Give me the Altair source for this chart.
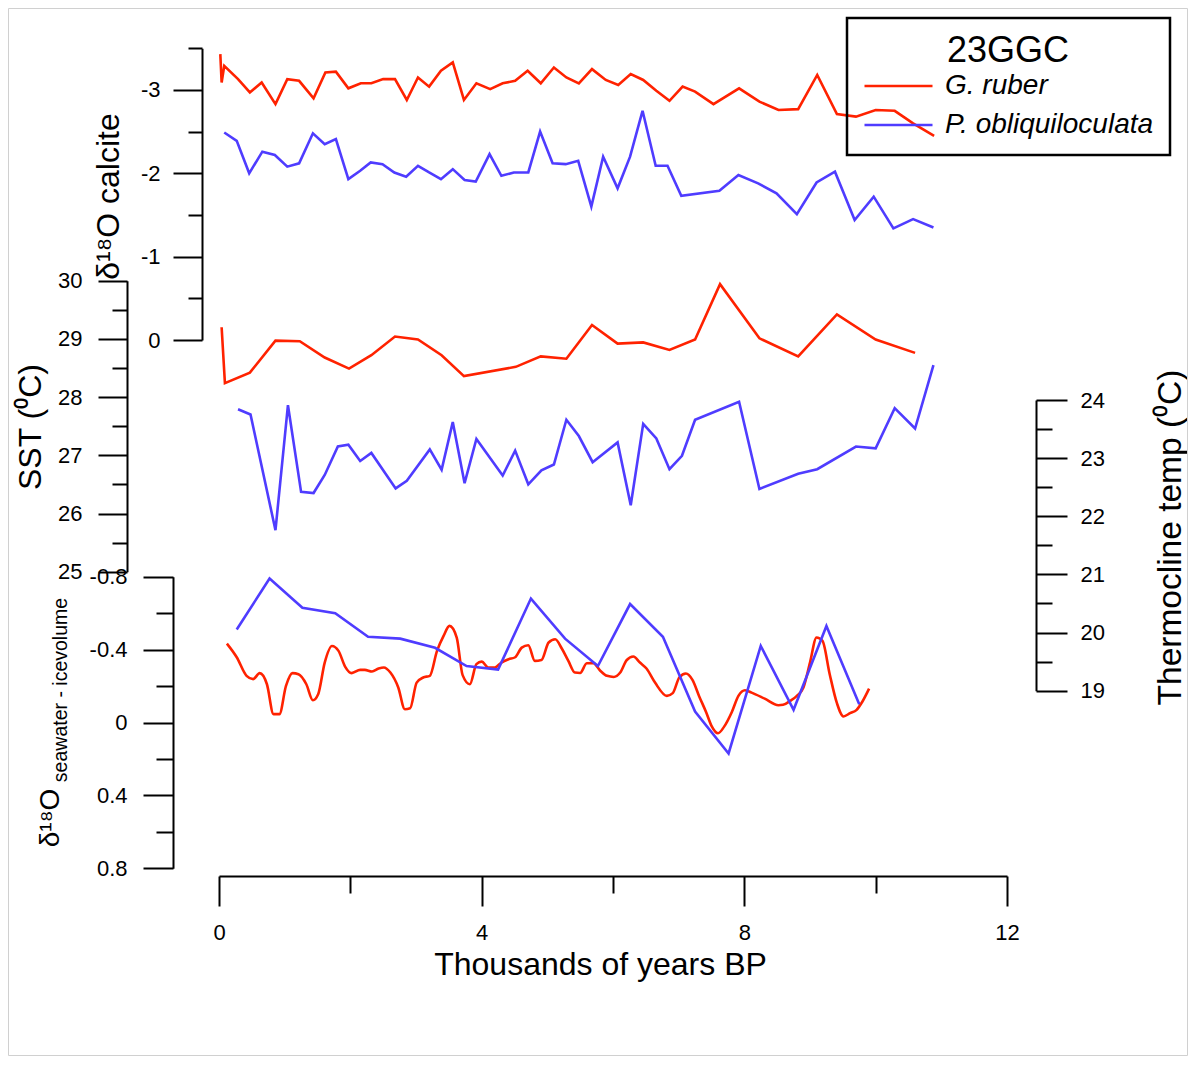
import altair as alt
import pandas as pd

FONT = "Liberation Sans"
RED = "#ff2200"
BLUE = "#4f3cff"
SPECIES = ["G. ruber", "P. obliquiloculata"]
LW = 2.6

# ---- top panel: d18O calcite ----
CALC_RUBER_AGE = [0.02, 0.04, 0.08, 0.29, 0.47, 0.65, 0.86, 1.04, 1.22, 1.44, 1.62, 1.78, 1.97, 2.16, 2.32,
                  2.50, 2.68, 2.86, 3.03, 3.20, 3.38, 3.56, 3.73, 3.92, 4.13, 4.32, 4.51, 4.70, 4.90, 5.10,
                  5.29, 5.48, 5.68, 5.89, 6.08, 6.27, 6.46, 6.66, 6.86, 7.06, 7.25, 7.53, 7.92, 8.23, 8.52,
                  8.82, 9.11, 9.41, 9.70, 10.00, 10.29, 10.57, 10.89]
CALC_RUBER_VAL = [-3.43, -3.09, -3.29, -3.13, -2.97, -3.09, -2.83, -3.13, -3.11, -2.90, -3.21, -3.22, -3.02,
                  -3.08, -3.08, -3.13, -3.13, -2.88, -3.15, -3.04, -3.23, -3.33, -2.88, -3.08, -3.01, -3.08,
                  -3.11, -3.23, -3.08, -3.27, -3.15, -3.08, -3.25, -3.12, -3.06, -3.19, -3.12, -2.99, -2.87,
                  -3.04, -2.98, -2.83, -3.02, -2.86, -2.76, -2.77, -3.18, -2.71, -2.68, -2.76, -2.75, -2.60,
                  -2.45]
CALC_OBLIQ_AGE = [0.08, 0.27, 0.46, 0.66, 0.85, 1.04, 1.22, 1.43, 1.61, 1.78, 1.97, 2.15, 2.31, 2.49, 2.67,
                  2.85, 3.03, 3.20, 3.38, 3.56, 3.74, 3.91, 4.12, 4.30, 4.49, 4.71, 4.89, 5.08, 5.28, 5.47,
                  5.67, 5.85, 6.07, 6.26, 6.45, 6.65, 6.83, 7.04, 7.62, 7.91, 8.21, 8.49, 8.80, 9.10, 9.38,
                  9.68, 9.97, 10.27, 10.57, 10.88]
CALC_OBLIQ_VAL = [-2.49, -2.39, -2.00, -2.26, -2.22, -2.08, -2.12, -2.48, -2.35, -2.41, -1.93, -2.03, -2.13,
                  -2.11, -2.01, -1.96, -2.09, -2.01, -1.93, -2.05, -1.92, -1.90, -2.23, -1.97, -2.01, -2.01,
                  -2.50, -2.12, -2.11, -2.15, -1.60, -2.20, -1.82, -2.20, -2.75, -2.09, -2.09, -1.73, -1.79,
                  -1.98, -1.88, -1.76, -1.51, -1.89, -2.02, -1.44, -1.72, -1.34, -1.45, -1.35]

# ---- middle panel: SST (G. ruber) and thermocline temperature (P. obliquiloculata) ----
SST_AGE = [0.04, 0.09, 0.47, 0.86, 1.23, 1.61, 1.98, 2.32, 2.68, 3.03, 3.39, 3.73, 4.52, 4.90, 5.29, 5.68,
           6.07, 6.46, 6.86, 7.25, 7.63, 8.23, 8.82, 9.41, 10.00, 10.60]
SST_VAL = [29.20, 28.24, 28.42, 28.97, 28.96, 28.68, 28.49, 28.72, 29.04, 28.99, 28.72, 28.36, 28.52, 28.70,
           28.66, 29.24, 28.92, 28.94, 28.81, 28.99, 29.94, 29.01, 28.70, 29.42, 28.99, 28.76]
THERMO_AGE = [0.29, 0.48, 0.86, 1.05, 1.25, 1.44, 1.61, 1.81, 1.97, 2.15, 2.32, 2.69, 2.86, 3.21, 3.39, 3.56,
              3.74, 3.92, 4.32, 4.51, 4.71, 4.91, 5.10, 5.29, 5.48, 5.69, 6.07, 6.27, 6.46, 6.66, 6.86, 7.05,
              7.25, 7.92, 8.23, 8.82, 9.11, 9.70, 10.00, 10.29, 10.60, 10.88]
THERMO_VAL = [23.84, 23.75, 21.76, 23.91, 22.42, 22.40, 22.71, 23.20, 23.23, 22.95, 23.09, 22.48, 22.61, 23.15,
              22.80, 23.62, 22.57, 23.33, 22.70, 23.13, 22.55, 22.79, 22.89, 23.66, 23.38, 22.93, 23.27, 22.19,
              23.59, 23.34, 22.81, 23.04, 23.66, 23.97, 22.47, 22.73, 22.81, 23.20, 23.17, 23.86, 23.51, 24.60]

# ---- bottom panel: d18O seawater - ice volume ----
SW_RUBER_AGE = [0.12, 0.27, 0.42, 0.52, 0.62, 0.73, 0.83, 0.92, 1.02, 1.12, 1.21, 1.33, 1.43, 1.51, 1.61,
                1.72, 1.82, 1.92, 2.02, 2.15, 2.22, 2.33, 2.43, 2.51, 2.61, 2.73, 2.83, 2.91, 3.01, 3.11,
                3.21, 3.32, 3.42, 3.51, 3.62, 3.71, 3.82, 3.92, 4.00, 4.10, 4.20, 4.30, 4.41, 4.51, 4.61,
                4.71, 4.81, 4.91, 5.02, 5.12, 5.22, 5.32, 5.42, 5.50, 5.60, 5.70, 5.81, 5.91, 6.01, 6.11,
                6.21, 6.31, 6.41, 6.51, 6.64, 6.82, 6.91, 7.01, 7.11, 7.21, 7.31, 7.42, 7.50, 7.60, 7.69,
                7.81, 7.91, 8.01, 8.11, 8.31, 8.52, 8.59, 8.70, 8.80, 8.90, 9.00, 9.10, 9.19, 9.30, 9.41,
                9.51, 9.61, 9.71, 9.79, 9.90]
SW_RUBER_VAL = [-0.433, -0.358, -0.256, -0.238, -0.271, -0.210, -0.046, -0.046, -0.201, -0.271, -0.265,
                -0.210, -0.122, -0.155, -0.329, -0.420, -0.393, -0.307, -0.271, -0.289, -0.289, -0.280,
                -0.296, -0.302, -0.274, -0.192, -0.073, -0.078, -0.219, -0.247, -0.256, -0.393, -0.475,
                -0.530, -0.466, -0.260, -0.210, -0.320, -0.334, -0.302, -0.302, -0.329, -0.347, -0.358,
                -0.411, -0.424, -0.338, -0.343, -0.439, -0.457, -0.406, -0.338, -0.274, -0.272, -0.325,
                -0.326, -0.283, -0.256, -0.250, -0.274, -0.343, -0.362, -0.329, -0.296, -0.219, -0.146,
                -0.161, -0.247, -0.269, -0.234, -0.146, -0.055, 0.018, 0.059, 0.024, -0.058, -0.146,
                -0.177, -0.164, -0.131, -0.095, -0.097, -0.119, -0.146, -0.192, -0.329, -0.466, -0.448,
                -0.265, -0.106, -0.033, -0.051, -0.069, -0.110, -0.186]
SW_OBLIQ_AGE = [0.27, 0.77, 1.27, 1.77, 2.27, 2.76, 3.29, 3.77, 4.25, 4.75, 5.27, 5.77, 6.26, 6.76, 7.25,
                7.76, 8.25, 8.75, 9.25, 9.75]
SW_OBLIQ_VAL = [-0.51, -0.79, -0.63, -0.60, -0.47, -0.46, -0.41, -0.31, -0.29, -0.68, -0.46, -0.31, -0.65,
                -0.47, -0.06, 0.17, -0.42, -0.07, -0.53, -0.10]


def table(age, val, sp):
    return pd.DataFrame({"age": age, "value": val, "species": sp})


calc_df = pd.concat([table(CALC_RUBER_AGE, CALC_RUBER_VAL, SPECIES[0]),
                     table(CALC_OBLIQ_AGE, CALC_OBLIQ_VAL, SPECIES[1])], ignore_index=True)
sst_df = table(SST_AGE, SST_VAL, SPECIES[0])
thermo_df = table(THERMO_AGE, THERMO_VAL, SPECIES[1])
sw_red_df = table(SW_RUBER_AGE, SW_RUBER_VAL, SPECIES[0])
sw_blue_df = table(SW_OBLIQ_AGE, SW_OBLIQ_VAL, SPECIES[1])

AX = dict(grid=False, domainColor="black", domainWidth=2, tickColor="black", tickWidth=2,
          labelColor="black", labelFont=FONT, labelFontSize=22, labelFlush=False, labelOverlap=False,
          titleFont=FONT, titleFontWeight="normal", titleColor="black")


def ticks(test, major, minor):
    return {"condition": {"test": test, "value": major}, "value": minor}


LABEL = "(datum.value < 0 ? '-' : '') + abs(datum.value)"

X = alt.X(
    "age:Q",
    scale=alt.Scale(domain=[0, 12], nice=False, zero=False),
    axis=alt.Axis(orient="bottom", values=[0, 2, 4, 6, 8, 10, 12],
                  tickSize=ticks("datum.value % 4 === 0", 30, 17),
                  labelExpr="datum.value % 4 === 0 ? '' + datum.value : ''",
                  labelPadding=16, title="Thousands of years BP", titleX=381, titleY=98,
                  titleFontSize=32, titleAlign="center", titleBaseline="alphabetic", **AX),
)

LEG = alt.Legend(title="23GGC", orient="none", legendX=628, legendY=-22, direction="vertical",
                 symbolType="stroke", symbolSize=4624, symbolStrokeWidth=LW, clipHeight=28,
                 rowPadding=11, titlePadding=2, padding=16, labelOffset=11, labelLimit=400,
                 labelFont=FONT, labelFontSize=28, labelFontStyle="italic", labelColor="black",
                 titleFont=FONT, titleFontSize=36, titleFontWeight="normal", titleColor="black",
                 titleAnchor="middle", titleAlign="center", strokeColor="black")
COLOR = alt.Color("species:N", scale=alt.Scale(domain=SPECIES, range=[RED, BLUE]), legend=LEG)

Y_CALC = alt.Y("value:Q",
               scale=alt.Scale(domain=[-3.5, 0], range=[8.3, 300], nice=False, zero=False),
               axis=alt.Axis(orient="left", offset=17, values=[-3.5, -3, -2.5, -2, -1.5, -1, -0.5, 0],
                             tickSize=ticks("datum.value % 1 === 0", 29, 14),
                             labelExpr="datum.value % 1 === 0 ? " + LABEL + " : ''",
                             labelPadding=13, title="\u03b4\u00b9\u2078O calcite", titleAngle=270,
                             titleFontSize=32, titleX=-84, titleY=156, titleAlign="center",
                             titleBaseline="alphabetic", **AX))
Y_SST = alt.Y("value:Q",
              scale=alt.Scale(domain=[25, 30], range=[531.7, 240.7], nice=False, zero=False),
              axis=alt.Axis(orient="left", offset=92,
                            values=[25, 25.5, 26, 26.5, 27, 27.5, 28, 28.5, 29, 29.5, 30],
                            tickSize=ticks("datum.value % 1 === 0", 29, 15),
                            labelExpr="datum.value % 1 === 0 ? '' + datum.value : ''",
                            labelPadding=16, title="SST (\u2070C)", titleAngle=270, titleFontSize=32,
                            titleX=-87, titleY=386.5, titleAlign="center", titleBaseline="alphabetic",
                            **AX))
Y_THERMO = alt.Y("value:Q",
                 scale=alt.Scale(domain=[19, 24], range=[650.7, 360], nice=False, zero=False),
                 axis=alt.Axis(orient="right", offset=29,
                               values=[19, 19.5, 20, 20.5, 21, 21.5, 22, 22.5, 23, 23.5, 24],
                               tickSize=ticks("datum.value % 1 === 0", 31, 16),
                               labelExpr="datum.value % 1 === 0 ? '' + datum.value : ''",
                               labelPadding=13, title="Thermocline temp (\u2070C)", titleAngle=270,
                               titleFontSize=33.5, titleX=144, titleY=497, titleAlign="center",
                               titleBaseline="alphabetic", **AX))
Y_SW = alt.Y("value:Q",
             scale=alt.Scale(domain=[-0.8, 0.8], range=[536.7, 828.3], nice=False, zero=False),
             axis=alt.Axis(orient="left", offset=46,
                           values=[-0.8, -0.6, -0.4, -0.2, 0, 0.2, 0.4, 0.6, 0.8],
                           tickSize=ticks("abs(round(datum.value * 10)) % 4 === 0", 30, 17),
                           labelExpr="abs(round(datum.value * 10)) % 4 === 0 ? " + LABEL + " : ''",
                           labelPadding=16, title="", **AX))

calc = alt.Chart(calc_df).mark_line(strokeWidth=LW).encode(x=X, y=Y_CALC, color=COLOR)
sst = alt.Chart(sst_df).mark_line(strokeWidth=LW).encode(x=X, y=Y_SST, color=COLOR)
thermo = alt.Chart(thermo_df).mark_line(strokeWidth=LW).encode(x=X, y=Y_THERMO, color=COLOR)
sw = alt.layer(
    alt.Chart(sw_red_df).mark_line(strokeWidth=LW, interpolate="monotone").encode(x=X, y=Y_SW, color=COLOR),
    alt.Chart(sw_blue_df).mark_line(strokeWidth=LW).encode(x=X, y=Y_SW, color=COLOR),
)

note = pd.DataFrame({"n": [0]})
sw_title_main = alt.Chart(note).mark_text(
    text="\u03b4\u00b9\u2078O", font=FONT, fontSize=28, angle=270, align="center",
    baseline="alphabetic", color="black").encode(x=alt.value(-160), y=alt.value(778))
sw_title_sub = alt.Chart(note).mark_text(
    text="seawater - icevolume", font=FONT, fontSize=19.5, angle=270, align="center",
    baseline="alphabetic", color="black").encode(x=alt.value(-152), y=alt.value(650))
border = alt.Chart(note).mark_rect(fill="white", fillOpacity=0, stroke="#d0d0d0", strokeWidth=1).encode(
    x=alt.value(-210.5), x2=alt.value(968.5), y=alt.value(-31.5), y2=alt.value(1015.5))

chart = (
    alt.layer(border, calc, sst, thermo, sw, sw_title_main, sw_title_sub)
    .resolve_scale(y="independent")
    .properties(width=788, height=836, autosize=alt.AutoSizeParams(type="none"),
                padding={"left": 211, "top": 32, "right": 181, "bottom": 180})
    .configure_view(strokeWidth=0)
    .configure_legend(strokeWidth=2.5)
)

chart.save("out.html", embed_options={"renderer": "svg", "actions": False})
